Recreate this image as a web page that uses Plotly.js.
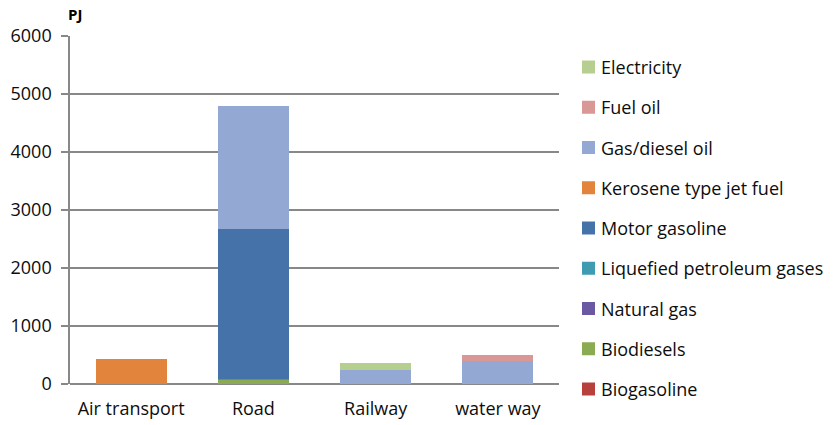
<!DOCTYPE html>
<html>
<head>
<meta charset="utf-8">
<script src="https://cdn.plot.ly/plotly-3.0.1.min.js"></script>
<style>html,body{margin:0;padding:0;background:#fff;}#chart{width:833px;height:425px;}</style>
</head>
<body>
<div id="chart"></div>
<script>
const categories = ["Air transport", "Road", "Railway", "water way"];
// stacked bottom -> top
const seriesNames = ["Biogasoline", "Biodiesels", "Natural gas", "Liquefied petroleum gases",
  "Motor gasoline", "Kerosene type jet fuel", "Gas/diesel oil", "Fuel oil", "Electricity"];
const biogasoline = [0, 0, 0, 0];
const biodiesels = [0, 70, 0, 0];
const naturalGas = [0, 5, 0, 0];
const lpg = [0, 10, 0, 0];
const motorGasoline = [0, 2585, 0, 0];
const kerosene = [430, 0, 0, 0];
const gasDiesel = [0, 2130, 250, 405];
const fuelOil = [0, 0, 0, 95];
const electricity = [0, 0, 115, 0];
const seriesValues = [biogasoline, biodiesels, naturalGas, lpg, motorGasoline, kerosene, gasDiesel, fuelOil, electricity];
const colors = ["#b8403c", "#8aab52", "#6b58a2", "#3f9bb1", "#4672aa", "#e2843c", "#93a8d2", "#d99795", "#b6ce8f"];
const yTicks = [0, 1000, 2000, 3000, 4000, 5000, 6000];

const font = "'Open Sans', sans-serif";
const textColor = "#0d0d0d";
const traces = seriesNames.map((n, i) => ({
  type: "bar", name: n, x: categories, y: seriesValues[i],
  marker: {color: colors[i], line: {width: 0}},
  hoverinfo: "name+y", showlegend: false
}));

// custom legend (Excel style: reversed stack order, top item first)
const W = 833, H = 425, mL = 70, mR = 274, mT = 36, mB = 41;
const pw = W - mL - mR, ph = H - mT - mB;
const px2x = px => (px - mL) / pw;
const py2y = py => (H - mB - py) / ph;
const legTop = 67, legStep = 40.25, sym = 13, symLeft = 582, textLeft = 599;
const shapes = [], annotations = [];
seriesNames.slice().reverse().forEach((n, k) => {
  const idx = seriesNames.length - 1 - k;
  const cy = legTop + k * legStep;
  shapes.push({type: "rect", xref: "paper", yref: "paper",
    x0: px2x(symLeft), x1: px2x(symLeft + sym), y0: py2y(cy + sym / 2), y1: py2y(cy - sym / 2),
    fillcolor: colors[idx], line: {width: 0}});
  annotations.push({text: n, xref: "paper", yref: "paper", x: px2x(textLeft), y: py2y(cy),
    xanchor: "left", yanchor: "middle", showarrow: false,
    font: {family: font, size: 18, color: textColor}});
});
annotations.push({text: "<b>PJ</b>", xref: "paper", yref: "paper", x: px2x(66), y: py2y(14),
  xanchor: "left", yanchor: "middle", showarrow: false,
  font: {family: font, size: 15, color: "#000"}});

const layout = {
  width: W, height: H,
  margin: {l: mL, r: mR, t: mT, b: mB},
  barmode: "stack", bargap: 0.42,
  paper_bgcolor: "#fff", plot_bgcolor: "#fff",
  font: {family: font, size: 18, color: textColor},
  showlegend: false,
  xaxis: {type: "category", showgrid: false, showline: false, zeroline: false,
    ticks: "", tickfont: {size: 18, color: textColor}, ticklabelstandoff: 12},
  yaxis: {range: [0, 6000], tickvals: yTicks, ticktext: yTicks.map(String),
    showgrid: true, gridcolor: "#888888", gridwidth: 1.7,
    showline: true, linecolor: "#888888", linewidth: 1.7,
    zeroline: true, zerolinecolor: "#888888", zerolinewidth: 1.7,
    ticks: "outside", ticklen: 7, tickcolor: "#888888", tickwidth: 1.7,
    tickfont: {size: 18, color: textColor}, ticklabelstandoff: 6},
  shapes: shapes,
  annotations: annotations
};
Plotly.newPlot("chart", traces, layout, {displayModeBar: false, staticPlot: true});
</script>
</body>
</html>
